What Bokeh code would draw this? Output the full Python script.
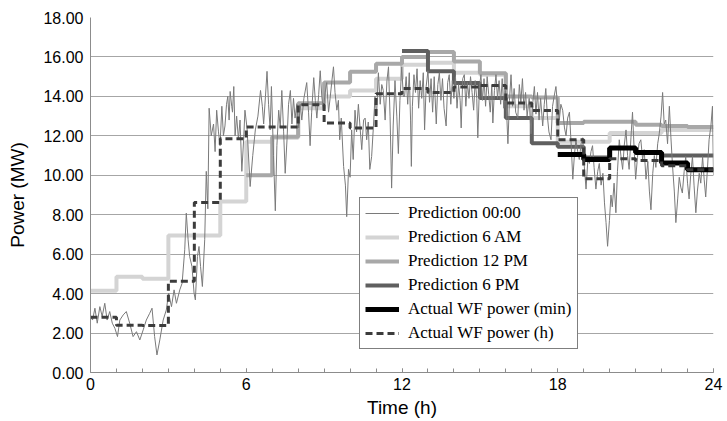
from bokeh.plotting import figure
from bokeh.models import Legend, LegendItem, FixedTicker, NumeralTickFormatter, Range1d
from bokeh.embed import file_html
from bokeh.resources import INLINE

hours = list(range(25))

# hourly step series (value for each hour starting at the given start hour)
pred_6am = [4.15, 4.85, 4.75, 6.95, 6.95, 8.67, 11.7, 11.9, 13.4, 14.0, 14.3, 14.9,
            15.6, 15.7, 15.2, 15.1, 13.5, 12.9, 11.7, 11.7, 12.15, 12.15, 12.3, 12.3]
pred_12pm = [10.0, 11.95, 13.65, 14.7, 15.25, 15.65, 16.0, 16.25, 15.77, 15.17, 14.0, 13.95,
             12.65, 12.72, 12.72, 12.56, 12.5, 12.45]
pred_6pm = [16.3, 15.27, 14.68, 13.92, 12.9, 11.63, 11.45, 10.9, 11.38, 11.16, 11.0, 11.0]
actual_min = [11.05, 10.8, 11.38, 11.16, 10.62, 10.28]
actual_h = [2.8, 2.4, 2.38, 4.63, 8.62, 11.85, 12.45, 12.45, 13.58, 12.65, 12.4, 14.13,
            14.4, 14.2, 14.47, 14.55, 13.66, 13.29, 11.8, 9.82, 10.84, 10.75, 10.48, 10.28]

start_6am, start_12pm, start_6pm, start_min, start_h = 0, 6, 12, 18, 0

# minute-resolution trace
noisy_t = [0.00, 0.08, 0.17, 0.26, 0.36, 0.45, 0.55, 0.64, 0.74, 0.84, 0.94, 1.04, 1.13, 1.26, 1.38,
           1.51, 1.64, 1.77, 1.90, 2.03, 2.15, 2.28, 2.37, 2.47, 2.56, 2.67, 2.80, 2.92, 3.01, 3.12,
           3.22, 3.31, 3.44, 3.53, 3.63, 3.69, 3.76, 3.82, 3.91, 3.99, 4.04, 4.12, 4.18, 4.24, 4.31,
           4.40, 4.46, 4.52, 4.57, 4.65, 4.74, 4.80, 4.86, 4.93, 4.99, 5.06, 5.12, 5.18, 5.24, 5.29,
           5.34, 5.38, 5.44, 5.47, 5.52, 5.57, 5.63, 5.70, 5.76, 5.83, 5.90, 5.95, 6.03, 6.15, 6.25,
           6.35, 6.45, 6.55, 6.62, 6.67, 6.74, 6.80, 6.86, 6.92, 6.97, 7.05, 7.12, 7.18, 7.25, 7.31,
           7.37, 7.44, 7.50, 7.57, 7.63, 7.70, 7.76, 7.82, 7.88, 7.95, 8.02, 8.08, 8.14, 8.22, 8.33,
           8.40, 8.46, 8.52, 8.60, 8.66, 8.72, 8.79, 8.85, 8.91, 8.97, 9.04, 9.10, 9.17, 9.23, 9.30,
           9.36, 9.42, 9.49, 9.55, 9.60, 9.66, 9.75, 9.82, 9.87, 9.94, 10.00, 10.06, 10.12, 10.19, 10.25,
           10.32, 10.38, 10.45, 10.52, 10.58, 10.64, 10.70, 10.76, 10.83, 10.90, 10.96, 11.02, 11.09, 11.16, 11.22,
           11.28, 11.35, 11.42, 11.48, 11.54, 11.60, 11.66, 11.73, 11.80, 11.86, 11.92, 11.99, 12.05, 12.10, 12.16,
           12.22, 12.28, 12.33, 12.36, 12.40, 12.46, 12.52, 12.58, 12.64, 12.70, 12.76, 12.82, 12.87, 12.93, 13.00,
           13.06, 13.12, 13.18, 13.24, 13.32, 13.38, 13.44, 13.50, 13.56, 13.62, 13.70, 13.76, 13.82, 13.88, 13.94,
           14.00, 14.06, 14.12, 14.18, 14.24, 14.28, 14.34, 14.40, 14.46, 14.52, 14.58, 14.64, 14.70, 14.76, 14.82,
           14.88, 14.92, 14.98, 15.04, 15.10, 15.16, 15.22, 15.28, 15.34, 15.40, 15.46, 15.50, 15.56, 15.62, 15.68,
           15.74, 15.80, 15.86, 15.92, 15.98, 16.04, 16.08, 16.14, 16.20, 16.26, 16.32, 16.38, 16.46, 16.52, 16.58,
           16.64, 16.70, 16.76, 16.82, 16.90, 16.97, 17.04, 17.10, 17.16, 17.22, 17.28, 17.34, 17.42, 17.48, 17.54,
           17.60, 17.66, 17.74, 17.80, 17.86, 17.93, 18.00, 18.06, 18.12, 18.19, 18.26, 18.32, 18.38, 18.45, 18.52,
           18.58, 18.64, 18.70, 18.77, 18.83, 18.90, 18.96, 19.02, 19.09, 19.16, 19.22, 19.28, 19.34, 19.40, 19.47,
           19.54, 19.60, 19.67, 19.74, 19.80, 19.86, 19.92, 19.99, 20.05, 20.10, 20.17, 20.24, 20.30, 20.37, 20.44,
           20.50, 20.56, 20.63, 20.69, 20.75, 20.82, 20.88, 20.94, 21.00, 21.07, 21.13, 21.20, 21.27, 21.33, 21.40,
           21.47, 21.53, 21.59, 21.66, 21.72, 21.78, 21.85, 21.91, 21.98, 22.04, 22.10, 22.16, 22.23, 22.30, 22.36,
           22.42, 22.49, 22.55, 22.62, 22.68, 22.74, 22.80, 22.87, 22.93, 23.00, 23.06, 23.12, 23.19, 23.25, 23.32,
           23.38, 23.45, 23.51, 23.58, 23.64, 23.70, 23.77, 23.83, 23.90, 23.96, 24.00]
noisy_v = [2.84, 2.66, 3.26, 2.50, 3.34, 2.84, 3.51, 2.66, 3.09, 2.50, 2.24, 1.82, 2.66, 2.92, 3.09,
           2.50, 1.82, 2.07, 1.65, 2.16, 2.66, 3.00, 3.26, 1.82, 0.89, 1.65, 2.66, 3.17, 4.02, 3.34,
           4.19, 3.51, 4.19, 4.53, 6.22, 8.08, 6.73, 5.88, 5.37, 4.02, 3.68, 5.88, 6.39, 5.37, 4.36,
           6.73, 10.2, 8.30, 13.4, 12.0, 12.6, 11.2, 13.3, 12.2, 11.5, 13.5, 12.0, 12.5, 13.6, 14.0,
           12.8, 14.25, 13.5, 13.2, 14.5, 12.0, 13.0, 11.8, 12.8, 10.2, 11.8, 13.3, 12.4, 9.43, 11.0,
           12.3, 13.0, 14.3, 13.5, 12.6, 14.0, 15.27, 13.6, 12.3, 14.5, 11.0, 8.20, 11.5, 13.3, 12.4,
           14.3, 12.2, 10.1, 11.8, 13.6, 14.3, 12.6, 13.9, 12.9, 13.6, 12.4, 13.6, 12.8, 13.9, 14.7,
           13.2, 11.5, 13.2, 14.95, 13.8, 12.9, 14.1, 15.3, 14.0, 13.3, 14.2, 14.7, 13.2, 13.9, 14.8,
           15.5, 14.2, 13.3, 13.8, 11.8, 12.9, 10.45, 9.50, 7.90, 10.3, 9.90, 12.3, 10.8, 13.3, 12.2,
           13.6, 12.5, 11.3, 12.8, 12.9, 11.8, 12.7, 10.3, 10.95, 12.5, 14.0, 13.0, 15.2, 13.6, 14.6,
           14.3, 12.8, 14.8, 15.5, 13.0, 9.35, 12.5, 14.8, 13.0, 11.1, 13.8, 15.5, 14.0, 14.0, 15.0,
           13.6, 15.2, 12.8, 10.45, 13.5, 15.1, 14.2, 15.4, 13.4, 14.8, 13.9, 15.2, 12.3, 14.5, 15.3,
           13.7, 14.9, 13.2, 15.0, 12.6, 14.6, 15.2, 13.8, 14.9, 13.4, 12.5, 14.7, 15.1, 13.6, 14.8,
           13.9, 15.0, 13.4, 14.6, 13.8, 12.4, 14.9, 15.1, 13.5, 14.7, 13.9, 15.0, 14.2, 13.3, 14.8,
           13.9, 11.9, 14.4, 15.1, 13.8, 14.9, 13.5, 15.0, 14.1, 13.2, 14.6, 12.65, 14.3, 15.1, 13.9,
           14.8, 13.6, 14.9, 13.4, 14.3, 12.9, 11.6, 13.8, 15.1, 13.5, 14.4, 13.2, 12.9, 14.6, 13.7,
           14.9, 13.3, 14.2, 13.0, 13.9, 12.1, 13.7, 14.5, 13.1, 14.2, 12.8, 13.9, 12.5, 13.6, 14.4,
           13.0, 12.2, 11.8, 13.5, 14.0, 14.5, 13.4, 12.8, 13.6, 13.3, 12.4, 12.0, 12.9, 13.2, 11.5,
           9.80, 11.0, 11.8, 11.2, 10.8, 11.6, 11.9, 10.5, 9.30, 10.8, 10.6, 11.2, 11.5, 10.4, 9.30,
           10.2, 10.6, 9.50, 10.1, 8.60, 7.60, 6.40, 7.70, 9.00, 8.40, 9.60, 8.10, 10.2, 11.8, 10.9,
           10.3, 11.5, 12.3, 11.0, 10.3, 11.9, 13.2, 11.4, 9.80, 10.9, 11.6, 11.8, 10.8, 11.3, 9.80,
           10.7, 9.20, 8.25, 10.1, 11.0, 10.4, 11.6, 12.1, 13.0, 14.2, 12.6, 12.8, 11.6, 13.5, 11.9,
           10.5, 9.20, 7.60, 8.80, 9.90, 9.40, 9.10, 10.2, 10.95, 9.60, 8.80, 10.0, 10.95, 9.50, 8.10,
           9.20, 10.1, 9.60, 10.95, 9.80, 8.90, 10.4, 11.8, 12.5, 13.5, 10.0]

x_major = [0, 6, 12, 18, 24]
y_ticks = [0, 2, 4, 6, 8, 10, 12, 14, 16, 18]

labels = ["Prediction 00:00", "Prediction 6 AM", "Prediction 12 PM", "Prediction 6 PM",
          "Actual WF power (min)", "Actual WF power (h)"]


def step_xy(start, vals):
    xs = hours[start:start + len(vals) + 1]
    ys = list(vals) + [vals[-1]]
    return xs, ys


p = figure(width=727, height=421, output_backend="svg", toolbar_location=None,
           x_range=Range1d(0, 24), y_range=Range1d(0, 18),
           min_border_left=90, min_border_right=14, min_border_top=17, min_border_bottom=49)
p.background_fill_color = "white"
p.border_fill_color = "white"
p.outline_line_color = None

x, y = step_xy(start_6am, pred_6am)
r6am = p.step(x, y, mode="after", line_color="#d4d4d4", line_width=4)
x, y = step_xy(start_12pm, pred_12pm)
r12 = p.step(x, y, mode="after", line_color="#a8a8a8", line_width=4)
x, y = step_xy(start_6pm, pred_6pm)
r6pm = p.step(x, y, mode="after", line_color="#5f5f5f", line_width=4)
rnoisy = p.line(noisy_t, noisy_v, line_color="#7a7a7a", line_width=1)
x, y = step_xy(start_min, actual_min)
rmin = p.step(x, y, mode="after", line_color="#000000", line_width=5)
x, y = step_xy(start_h, actual_h)
rh = p.step(x, y, mode="after", line_color="#3c3c3c", line_width=3, line_dash="7 4")

font = "Liberation Sans"
p.xaxis.ticker = FixedTicker(ticks=x_major, minor_ticks=hours)
p.xaxis.major_tick_in = 4
p.xaxis.major_tick_out = 0
p.xaxis.minor_tick_in = 4
p.xaxis.minor_tick_out = 0
p.yaxis.ticker = FixedTicker(ticks=y_ticks)
p.yaxis.formatter = NumeralTickFormatter(format="0.00")
p.yaxis.major_tick_in = 0
p.yaxis.major_tick_out = 0
p.yaxis.minor_tick_in = 0
p.yaxis.minor_tick_out = 0
for ax in (p.xaxis[0], p.yaxis[0]):
    ax.axis_line_color = "#8c8c8c"
    ax.major_tick_line_color = "#8c8c8c"
    ax.minor_tick_line_color = "#8c8c8c"
    ax.major_label_text_font = font
    ax.major_label_text_font_size = "16px"
    ax.major_label_text_color = "#000000"
    ax.axis_label_text_font = font
    ax.axis_label_text_font_size = "19px"
    ax.axis_label_text_font_style = "normal"
    ax.axis_label_text_color = "#000000"
p.xaxis.axis_label = "Time (h)"
p.yaxis.axis_label = "Power (MW)"
p.xaxis.major_label_standoff = 5
p.yaxis.major_label_standoff = 7
p.xaxis.axis_label_standoff = 4
p.yaxis.axis_label_standoff = 12
p.xgrid.visible = False
p.ygrid.grid_line_color = "#a6a6a6"
p.ygrid.grid_line_width = 1

items = [LegendItem(label=lab, renderers=[r]) for lab, r in
         zip(labels, [rnoisy, r6am, r12, r6pm, rmin, rh])]
legend = Legend(items=items, location=(269, 23), orientation="vertical",
                label_text_font="Liberation Serif", label_text_font_size="17px",
                label_text_color="#000000",
                glyph_width=34, glyph_height=20, label_height=20, label_standoff=9,
                spacing=4, padding=5, margin=0,
                border_line_color="#000000", border_line_width=1,
                background_fill_color="white", background_fill_alpha=1.0)
p.add_layout(legend)

open("out.html", "w").write(file_html(p, INLINE))
